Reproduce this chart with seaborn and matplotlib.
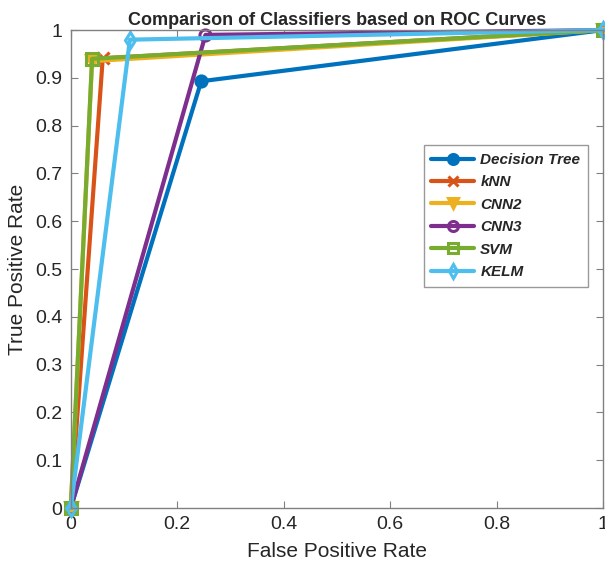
import matplotlib
matplotlib.use("Agg")
import matplotlib.pyplot as plt
import seaborn as sns
import pandas as pd

names = ["Decision Tree", "kNN", "CNN2", "CNN3", "SVM", "KELM"]
fpr = {
    "Decision Tree": [0.0, 0.245, 1.0],
    "kNN": [0.0, 0.06, 1.0],
    "CNN2": [0.0, 0.04, 1.0],
    "CNN3": [0.0, 0.253, 1.0],
    "SVM": [0.0, 0.04, 1.0],
    "KELM": [0.0, 0.111, 1.0],
}
tpr = {
    "Decision Tree": [0.0, 0.893, 1.0],
    "kNN": [0.0, 0.941, 1.0],
    "CNN2": [0.0, 0.935, 1.0],
    "CNN3": [0.0, 0.99, 1.0],
    "SVM": [0.0, 0.94, 1.0],
    "KELM": [0.0, 0.98, 1.0],
}
colors = ["#0072BD", "#D95319", "#EDB120", "#7E2F8E", "#77AC30", "#4DBEEE"]
markers = ["o", "x", "v", "o", "s", "d"]
filled = [True, True, True, False, False, False]
xticks = [0, 0.2, 0.4, 0.6, 0.8, 1]
yticks = [0, 0.1, 0.2, 0.3, 0.4, 0.5, 0.6, 0.7, 0.8, 0.9, 1]

sns.set_style("white")
plt.rcParams["font.family"] = ["Liberation Sans", "DejaVu Sans"]

fig = plt.figure(figsize=(6.05, 5.68), dpi=100)
ax = fig.add_axes([0.117, 0.1056, 0.88, 0.8414])

for name, c, m, f in zip(names, colors, markers, filled):
    df = pd.DataFrame({"x": fpr[name], "y": tpr[name]})
    sns.lineplot(data=df, x="x", y="y", ax=ax, color=c, linewidth=3,
                 marker=m, markersize=8, sort=False, label=name,
                 markerfacecolor=(c if f else "none"), markeredgecolor=c,
                 markeredgewidth=2.2, clip_on=False)

ax.set_xlim(0, 1)
ax.set_ylim(0, 1)
ax.set_xticks(xticks)
ax.set_yticks(yticks)
ax.set_xticklabels([f"{v:g}" for v in xticks], fontsize=14, color="#262626")
ax.set_yticklabels([f"{v:g}" for v in yticks], fontsize=14, color="#262626")
ax.tick_params(direction="in", length=5, color="#808080", top=True, right=True,
               bottom=True, left=True, pad=6)
for s in ax.spines.values():
    s.set_color("#808080")
    s.set_linewidth(1)
ax.set_xlabel("False Positive Rate", fontsize=15, color="#262626", labelpad=6)
ax.set_ylabel("True Positive Rate", fontsize=15, color="#262626", labelpad=6)
ax.set_title("Comparison of Classifiers based on ROC Curves", fontsize=13,
             fontweight="bold", pad=4)

leg = ax.legend(loc="upper left", bbox_to_anchor=(0.663, 0.759), frameon=True,
                fancybox=False, edgecolor="#808080", borderaxespad=0,
                prop={"style": "italic", "weight": "bold", "size": 11},
                handlelength=2.8, borderpad=0.5, labelspacing=0.55,
                handletextpad=0.4, markerscale=0.9)
leg.get_frame().set_linewidth(1)

fig.savefig("out.png", dpi=100)
